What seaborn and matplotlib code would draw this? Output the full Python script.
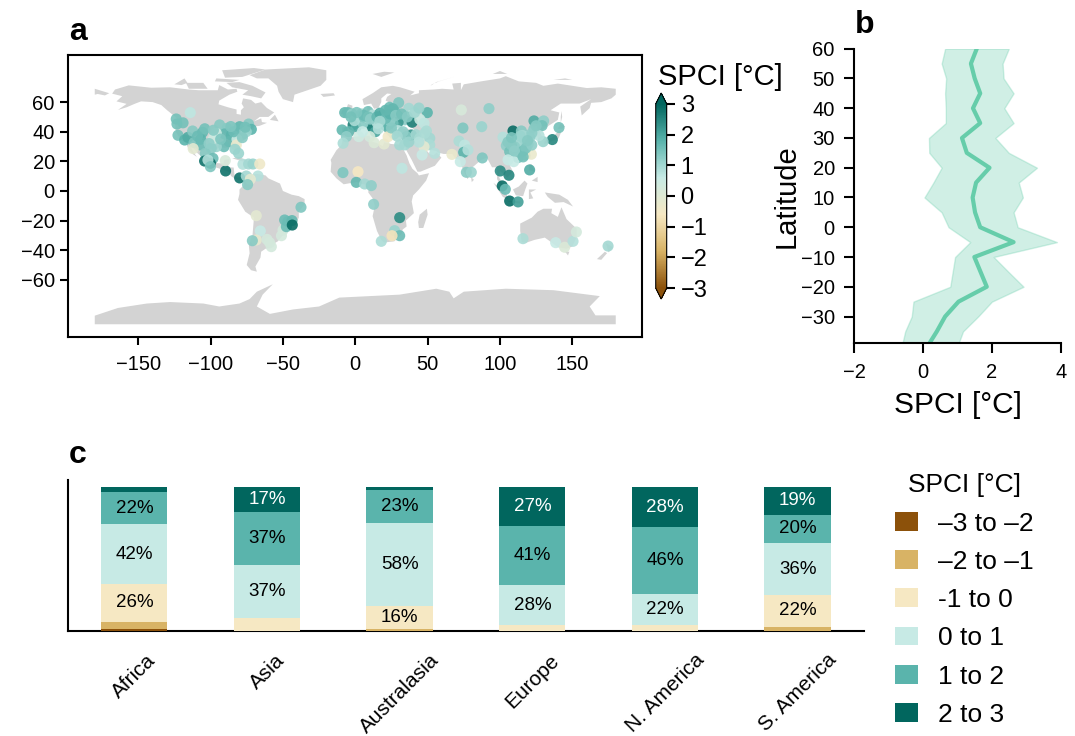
import matplotlib
matplotlib.use("Agg")
import matplotlib.pyplot as plt
from matplotlib.cm import ScalarMappable
from matplotlib.colors import LinearSegmentedColormap, Normalize
from matplotlib.patches import Patch
import numpy as np
import pandas as pd
import seaborn as sns

# ---------- land outlines (lon, lat) ----------
north_america = [(-166,68.5),(-156.5,71.3),(-141,69.7),(-128,70),(-115,68.5),(-108,68),(-95,68),(-94,71.5),(-88,68.5),(-82,69),(-81.5,67),(-87,65),(-94,61),(-94.5,58.5),(-88,56.5),(-82,55),(-82,52),(-79,51.5),(-79,54.5),(-77,56.5),(-78.5,59),(-77.5,62.5),(-72,61.5),(-69,59),(-65,60),(-61,56),(-56,53),(-60,50),(-66,50),(-70,47),(-65,49),(-64.5,46.5),(-61,46),(-66,44),(-70,43.5),(-70,41.5),(-74,40.5),(-76,37),(-75.5,35.2),(-81,32),(-80,26.5),(-80.5,25),(-82,27),(-83,29),(-85,29.7),(-90,29.2),(-94,29.5),(-97.5,27),(-97.5,22.5),(-95.5,18.8),(-91,18.5),(-90.5,21),(-87,21.5),(-88,16),(-84,15.8),(-83.5,11),(-81.5,9),(-79,9.5),(-77.3,8.5),(-78,7.5),(-80.5,7.3),(-83,8.2),(-85.7,10),(-87.5,13),(-92,14.5),(-96,15.8),(-101.5,17.5),(-105.5,20),(-105.5,22.5),(-109,25.5),(-112.5,30),(-114.7,31.7),(-112,26.5),(-109.5,23),(-112,24.7),(-115,28),(-117.2,32.5),(-120.5,34.5),(-124,40),(-124.5,46),(-123,49),(-130,54.5),(-134,58),(-140,60),(-148,60.5),(-152,59),(-158,56.5),(-164,54.7),(-158,58.8),(-165,60.5),(-161,64),(-168,65.7)]
greenland = [(-73,78.2),(-62,82),(-32,83.5),(-20,81.5),(-20,75),(-24,71),(-33,68),(-42,65),(-43,60),(-50,62),(-53,67),(-54,71),(-60,76),(-68,76)]
baffin = [(-80,73.5),(-71,71),(-62,66.5),(-65,62.5),(-72,64),(-78,65),(-74,68),(-85,70),(-89,73)]
victoria = [(-117,73),(-105,73),(-102,69),(-115,69)]
ellesmere = [(-90,76.5),(-78,77),(-62,82),(-70,83),(-92,81.5)]
banks = [(-125,72),(-118,76),(-116,73),(-120,71.5)]
devon = [(-96,76),(-80,75),(-85,73.5),(-97,74)]
newfoundland = [(-59,48),(-55.5,51.5),(-53,47)]
cuba = [(-85,22),(-80,23),(-74,20),(-78,20)]
hispaniola = [(-74,19.8),(-68.5,18.5),(-74,18)]
iceland = [(-24,65.5),(-15,66),(-14,64.5),(-22,63.5)]
britain = [(-5.5,50),(1.5,51.3),(0,53.5),(-2,56),(-2,57.6),(-5,58.6),(-6,56),(-3,54),(-5,52)]
ireland = [(-10,52),(-6,52.2),(-6,55),(-9,54.5)]
south_america = [(-77.3,8.5),(-75,11),(-72,12),(-71,11),(-68,11.5),(-62,10.5),(-60,8.5),(-52,5),(-50,0),(-44,-2.5),(-39,-3.5),(-35,-5.5),(-35,-9),(-39,-14),(-39,-18),(-41,-22),(-47,-24.5),(-48.5,-28),(-53.5,-34),(-57,-36),(-57.5,-38),(-62,-39),(-65,-41),(-65.5,-45),(-69,-51),(-68,-54.5),(-72,-53.5),(-75,-50),(-73,-42),(-73.5,-37),(-71,-30),(-70,-18),(-76,-14),(-81,-6),(-80,-2),(-80,1),(-77,4),(-77.5,7)]
africa = [(-6,35.8),(3,37),(10,37.3),(11,33.5),(15,32.3),(19,30.3),(20,32.8),(25,31.7),(32,31.2),(34.3,31.3),(32.5,29.5),(35.5,24),(37.5,18.5),(39.5,15),(43,12),(44,10.5),(51,12),(49,7),(44,1),(40,-3),(39,-7),(40.5,-15),(35,-20),(35.5,-24),(32.8,-26),(32,-29),(27,-34),(20,-34.8),(18,-33),(15,-27),(12,-17),(13.5,-10),(12,-5),(9,-1),(9.5,4),(5.5,4.5),(1,6),(-4,5.2),(-8,4.5),(-13,8.5),(-17,13),(-16.5,19),(-17,21),(-13,27.5),(-9.5,31),(-9,33.5)]
madagascar = [(49.5,-12),(50,-16),(47,-25),(44,-25),(43.5,-21),(44.5,-16)]
eurasia = [(-9.5,37),(-9,43),(-2,43.5),(-1,46),(-4.5,48.5),(1,50),(4,52),(8,54),(8.5,57),(10.5,57.5),(10,54.5),(14,54),(19,54.5),(21,57),(24,59.5),(30,60),(23,60),(21,61),(22,63.5),(25,65.5),(22,65.8),(18,62.5),(18,60),(16,56),(13,55.5),(11,59),(6,58),(5,62),(12,66),(18,70),(26,71),(31,70),(41,67),(38,64.5),(44,66),(44,68),(54,68.5),(60,69),(68,68.5),(67,72.5),(73,73),(73,68),(75,72),(87,74),(100,76),(104,77.5),(113,74),(125,73),(130,71),(140,72.5),(160,69.5),(170,70),(180,69),(180,65),(177,62.5),(170,60),(163,59.5),(162,56),(156.5,51),(155.5,57),(163,62),(155,59),(142,59),(135,54.5),(141,53),(140,48),(132,43),(127.5,39.8),(129.5,36),(126.5,34.5),(125,39.5),(121,39),(118,39),(122.5,37),(119.5,35),(122,31),(120,26),(114,22.5),(108,21.5),(106,19),(109,13),(105,9),(103,11),(100,13.5),(99.5,9),(104,1.5),(101,3),(98,8),(98,16),(94.5,16),(91,22.5),(87,21),(80.5,15.5),(80,11),(77.5,8),(73,18),(72.5,21),(69,22),(67,25),(61,25),(57,26),(56,27),(51,28),(48,30),(50,26.5),(51.5,25),(54,24),(56.3,26),(59.5,22.5),(55,17),(45,13),(43,13),(39,21),(35,28),(34.3,31.3),(36,36.5),(30,36.3),(26.5,38.5),(26,40),(29,41),(35,42),(41,41),(37,45),(33,45.5),(30,46),(28,43),(26,41),(24,40.5),(23,37),(20,40),(18.5,42.5),(13,45.5),(12.5,44),(18.5,40),(16,38),(11,43),(7,44),(3,43),(0,39.5),(-2,36.7),(-6,36)]
chukotka = [(-180,69),(-175,67.5),(-170,66),(-173,64.5),(-178,65.5),(-180,65)]
honshu = [(130.5,31.5),(131,34),(136,36),(140,40),(141.5,41),(142,39),(140.5,35.5),(136,33.7)]
hokkaido = [(140,42),(142,45.5),(145,43.5),(143,42)]
sakhalin = [(142,46),(143,50),(142.5,54),(142,50)]
taiwan = [(120,23),(121.5,25),(121,22)]
luzon = [(120,18),(122,18),(124,13),(120,14)]
mindanao = [(122,7),(126,9.5),(126,6)]
borneo = [(109,1),(113,3),(117,7),(119,5),(117.5,1),(116,-3.5),(111,-3)]
sumatra = [(95.5,5.5),(104,-1),(106,-6),(102,-4)]
java = [(105,-6.5),(114,-7),(114,-8.5),(106,-7.5)]
sulawesi = [(120,1),(125,1),(121,-1),(123,-5),(120,-5.5)]
new_guinea = [(131,-1),(141,-2.5),(147,-6),(150.5,-10.5),(144,-7.5),(138,-8),(133,-4)]
sri_lanka = [(80,9.5),(82,7.5),(80.5,6)]
australia = [(114,-22),(122,-18),(126,-14),(130,-12),(136,-12),(135.5,-15),(140,-17.5),(142.5,-11),(146,-19),(153,-25.5),(153,-31),(150,-37.5),(146,-39),(140,-38),(136,-35),(131,-31.5),(124,-33),(118,-35),(115,-34.5),(114,-27)]
tasmania = [(145,-41),(148,-41),(147,-43.5)]
nz_north = [(173,-35),(178,-38),(175,-41.5),(174,-38)]
nz_south = [(172.5,-41),(174,-42),(170,-46.5),(167,-46)]
novaya = [(52,71),(56,73.5),(68,77),(58,74),(53,72)]
svalbard = [(12,79),(20,80.5),(27,80),(18,77)]
severnaya = [(95,79),(105,79),(100,81)]
new_siberian = [(137,75),(145,76),(150,75)]
antarctica = [(-180,-84.2),(-164,-79),(-144,-76),(-128,-75),(-105,-76),(-94,-78),(-80,-76),(-73,-73),(-68,-68),(-57,-63),(-64,-70),(-68,-78),(-59,-83),(-43,-80),(-25,-78),(-11,-72),(30.6,-70),(56,-66),(65,-68),(68,-72.5),(75,-68),(104,-66),(137,-67),(169,-71),(162,-78),(166,-84),(180,-84),(180,-90),(-180,-90)]
land_shapes = [north_america, greenland, baffin, victoria, ellesmere, banks, devon, newfoundland, cuba, hispaniola,
               iceland, britain, ireland, south_america, africa, madagascar, eurasia, chukotka, honshu, hokkaido,
               sakhalin, taiwan, luzon, mindanao, borneo, sumatra, java, sulawesi, new_guinea, sri_lanka, australia,
               tasmania, nz_north, nz_south, novaya, svalbard, severnaya, new_siberian, antarctica]

# ---------- panel a: sites ----------
americas_lon = [-123.7,-123.2,-114,-122.5,-117.9,-115.6,-112.4,-111.4,-105.5,-106.8,-106.8,-112,-93.7,-88.6,-90.2,-85.6,-87.3,-90.7,-96,-99.5,-97.9,-96,-82.2,-79.9,-73.7,-71.8,-77.6,-75.3,-81.7,-82.2,-83.1,-80.6,-103.6,-98.3,-100.1,-104.1,-101.8,-100.1,-89.6,-89.8,-79.9,-77.6,-73.7,-70.7,-66,-75.3,-67.2,-72.5,-74.4,-37.5,-68.4,-65.6,-68.4,-71.1,-61,-58,-59.2,-51,-49.9,-48.8,-46.5,-47.6,-43.7,-43.5]
americas_lat = [48.6,45.2,52.9,37.6,34.4,36.2,40.5,32.6,39.6,34.9,31,28.6,44.6,42.3,38.5,37.8,33.3,29.9,29.9,28.8,35.5,38.9,42.3,43.4,45.2,41.6,38.5,40,34.9,31,28.1,25.4,25.4,22,18.7,20.2,20.9,16.4,13.5,20.5,8.8,18,18.2,18.2,18.2,10.1,10.1,7.9,4.3,-11,-16.7,-27,-33.1,-33.6,-32.7,-37.6,-34.9,-30.2,-26.4,-19.6,-20.7,-24.1,-20,-23]
americas_spci = [1.5,1.5,0.7,1.5,1.8,1.9,1.3,1.4,1.7,1.8,1.6,-0.1,1.3,1.3,1.7,1.8,1.7,1.6,1.1,1.2,0.4,0.5,1.0,1.7,1.3,1.8,1.3,1.1,0.5,-0.3,1.1,1.1,1.3,1.6,2.8,2.8,0.8,1.4,2.8,0.2,2.8,0.8,1.0,1.1,-0.4,1.0,0.8,-0.1,1.3,1.4,-0.1,0.6,-0.2,1.3,0.3,0.3,0.3,0.3,0.3,1.6,1.6,1.6,1.7,2.9]
dense_na_lon = [-119,-104,-98,-84,-78,-76,-93,-101,-109,-86]
dense_na_lat = [46,42,41,40,36,43,35,32,37,43.5]
dense_na_spci = [1.5,1.5,1.3,1.6,1.3,1.5,1.4,1.2,1.6,1.4]

europe_lon = [-7.3,-5,-2.2,1.5,4.2,8.8,12.3,19.2,23.8,30,27.3,29.6,37,39.3,49.8,34.2,29.6,39.3,26.1,44.6,47.5,49.2,-1.5,0.8,7.7,10.7,14.6,16.9,20.4,11.6,13.9,22.7,29.6,26.8,38.8,35.3,30.7,34.2,44.5,51.5,51.5,47.5,54.9,46.2,-9.1,-4.5,-6.1,-8.4,2.4,10,13,19.9,22.7,5.4,13.4,15.3,8.3,3,-0.5,6,18,24]
europe_lat = [52.9,52.9,52,48.4,52,53.6,51.3,51.3,56.5,59.6,53.6,50.6,55.8,51.3,52.9,48,46.4,46.4,45.7,48.4,45.7,40.5,44.6,43.4,46.8,45.7,46.8,44.6,44.6,43,40,43,40.7,38.5,37.8,36.7,31.1,31.1,35.6,35.6,31.1,29.9,25.4,24.3,41.2,40,36.7,32.2,36.7,36.7,32.6,31.7,36.7,45.7,48.4,45.7,49.5,50.2,47.5,50,49,47.5]
europe_spci = [1.7,1.6,1.2,0.5,1.1,1.5,0.8,2.0,1.6,1.4,1.6,1.6,1.0,0.4,1.8,1.2,2.2,2.6,1.5,0.5,0.7,0.9,2.6,1.9,1.2,1.5,0.9,1.0,2.0,2.6,2.0,1.7,0.7,1.1,2.2,1.3,1.0,1.0,0.4,1.0,0.9,-0.1,0.8,0.6,1.7,1.7,1.2,0.9,0.4,0.3,0.1,-0.1,-0.4,1.2,0.8,0.8,0.9,1.3,0.9,1.4,1.5,1.2]
dense_eu_lon = [6,9,10.5,15,17,21,24,26,28,32,36,41,44,21,1,-3,17,25,33,42,44,37,29,48,16,5]
dense_eu_lat = [51,50,48.5,50,52.5,49,52,55.5,51,52,50,53,56,54.5,53,50,47,42.5,40,38,33,33,37,39,42,40]
dense_eu_spci = [1.6,1.5,1.2,1.7,1.9,1.6,1.8,1.7,1.3,1.5,1.3,1.0,1.1,1.7,1.4,1.5,1.0,1.3,1.2,1.0,0.8,1.1,1.0,0.9,0.8,0.6]

asia_lon = [73.3,92.4,74.4,87.4,71.7,75.6,74.9,77.9,66.8,72.6,76.8,80.2,87.8,100.2,106.2,101.6,103.7,106.7,112.5,120.5,109,114.8,123.5,130.2,129.1,123.5,140.8,136.2,129.8,127,102.1,104.4,106.7,111.8,113.2,118.2,119.4,112.5,112.5,117.1,121.7,105.6,109.5,114.8,117,110,116,105.5,120.5,115.5]
asia_lat = [54.7,55.6,42.5,43.4,33.7,31,26.1,27.7,24.7,19.8,12.6,12.6,22.3,13.5,10.6,3.4,1.1,-6.8,-7.4,14.2,40.5,40.5,47.3,47.3,44.1,41.9,42.8,34.7,33.3,37.4,36.3,30.6,26.6,34.5,34.5,36.7,31.5,28.2,22.5,24.3,24.8,21,19.8,31.1,35,30,27,33,36,37.5]
asia_spci = [0.2,1.2,1.4,1.1,0.9,0.7,1.8,0.8,-0.3,0.6,1.3,1.1,1.4,2.4,2.5,2.9,1.6,2.9,2.1,1.9,2.9,1.3,1.9,1.2,1.5,1.3,1.5,2.5,1.1,0.8,0.8,1.2,1.5,1.2,0.8,1.0,1.1,1.6,1.4,1.3,-0.3,0.6,0.6,1.0,1.1,1.2,1.5,1.3,1.2,1.0]
dense_as_lon = [108,110,118,122,114,122,125,108,116,119]
dense_as_lat = [31,27,29,31,37,39,44,36,23,34]
dense_as_spci = [1.3,1.2,1.4,1.2,1.1,1.2,1.3,1.4,1.5,1.3]

africa_oceania_lon = [-8.5,1.9,0.7,6.5,11.1,32.3,12.7,30.7,27.2,30.7,25.4,18,115.9,138.5,144.7,150.5,152.8,174.7]
africa_oceania_lat = [12.4,13,5.8,4.7,3.6,15.3,-9,-18,-26.8,-30.2,-30.2,-34,-32.2,-34.9,-38,-34,-27.7,-37.2]
africa_oceania_spci = [1.4,-0.6,1.7,1.0,1.2,0.7,1.2,2.4,1.1,1.6,-0.7,0.9,0.9,0.6,0.1,0.8,0.3,1.0]

map_xticks = [-150, -100, -50, 0, 50, 100, 150]
map_yticks = [-60, -40, -20, 0, 20, 40, 60]
cbar_ticks = [-3, -2, -1, 0, 1, 2, 3]

# ---------- panel b: latitudinal profile ----------
lat_bins = [60,55,50,45,40,35,30,25,20,15,10,5,0,-5,-10,-15,-20,-25,-30,-35,-40]
lat_mean = [1.56,1.39,1.50,1.66,1.45,1.66,1.13,1.27,1.93,1.54,1.44,1.51,1.66,2.63,1.49,1.67,1.85,1.03,0.64,0.40,0.13]
lat_low = [0.64,0.54,0.67,0.64,0.66,0.66,0.17,0.18,0.54,0.30,0.04,0.54,0.74,1.37,0.93,0.86,0.79,-0.28,-0.33,-0.52,-0.62]
lat_high = [2.49,2.31,2.34,2.63,2.36,2.63,2.10,2.49,3.31,2.78,2.90,2.63,2.75,3.89,2.05,2.48,2.92,2.00,1.60,1.16,1.00]

# ---------- panel c: share of sites per class ----------
regions = ["Africa", "Asia", "Australasia", "Europe", "N. America", "S. America"]
class_labels = ["\u20133 to \u20132", "\u20132 to \u20131", "-1 to 0", "0 to 1", "1 to 2", "2 to 3"]
class_colors = ["#8c510a", "#d8b365", "#f6e8c3", "#c7eae5", "#5ab4ac", "#01665e"]
share_m3 = [1.5, 0, 0, 0, 0, 0]
share_m2 = [5, 0, 1.3, 0, 0, 3]
share_m1 = [26, 9, 16, 4, 4, 22]
share_p0 = [42, 37, 58, 28, 22, 36]
share_p1 = [22, 37, 23, 41, 46, 20]
share_p2 = [3.5, 17, 1.7, 27, 28, 19]
shares = [share_m3, share_m2, share_m1, share_p0, share_p1, share_p2]
min_labelled_share = 15

# ---------- styling ----------
W, H = 1075, 736
sns.set_style("ticks")
plt.rcParams["font.family"] = ["Liberation Sans", "DejaVu Sans"]
plt.rcParams["axes.linewidth"] = 1.5
plt.rcParams["xtick.major.width"] = 1.5
plt.rcParams["ytick.major.width"] = 1.5
plt.rcParams["xtick.major.size"] = 6
plt.rcParams["ytick.major.size"] = 6
plt.rcParams["xtick.color"] = "black"
plt.rcParams["ytick.color"] = "black"
plt.rcParams["text.color"] = "black"
plt.rcParams["axes.labelcolor"] = "black"
plt.rcParams["axes.edgecolor"] = "black"

spci_cmap = LinearSegmentedColormap.from_list("spci", class_colors)
spci_norm = Normalize(-3, 3)


def box(left, top, right, bottom):
    return [left / W, 1 - bottom / H, (right - left) / W, (bottom - top) / H]


fig = plt.figure(figsize=(W / 100, H / 100), dpi=100)

# panel a
ax_a = fig.add_axes(box(68, 55, 642.5, 337))
for shape in land_shapes:
    xs, ys = zip(*shape)
    ax_a.fill(xs, ys, color="#d3d3d3", lw=0, zorder=1)
sites = pd.DataFrame({
    "lon": americas_lon + dense_na_lon + europe_lon + dense_eu_lon + asia_lon + dense_as_lon + africa_oceania_lon,
    "lat": americas_lat + dense_na_lat + europe_lat + dense_eu_lat + asia_lat + dense_as_lat + africa_oceania_lat,
    "spci": americas_spci + dense_na_spci + europe_spci + dense_eu_spci + asia_spci + dense_as_spci + africa_oceania_spci,
})
sns.scatterplot(data=sites, x="lon", y="lat", hue="spci", palette=spci_cmap, hue_norm=spci_norm,
                s=64, linewidth=0, alpha=0.9, legend=False, ax=ax_a, zorder=3)
ax_a.set_xlim(-198.5, 198.5)
ax_a.set_ylim(-98.6, 91.8)
ax_a.set_xticks(map_xticks)
ax_a.set_yticks(map_yticks)
ax_a.set_xlabel("")
ax_a.set_ylabel("")
ax_a.tick_params(labelsize=14.5)
ax_a.tick_params(axis="x", pad=7)

# colour bar (the extension tips live inside this axes box)
cax = fig.add_axes(box(655.7, 93, 666.7, 299))
cbar = fig.colorbar(ScalarMappable(spci_norm, spci_cmap), cax=cax, extend="both", extendfrac=0.0595)
cbar.set_ticks(cbar_ticks)
cbar.ax.tick_params(labelsize=17, length=6, width=1.5, pad=4)
cbar.outline.set_linewidth(0.8)
fig.text(720 / W, 1 - 77 / H, "SPCI [\u00b0C]", fontsize=21, ha="center", va="center")

# panel b
ax_b = fig.add_axes(box(854.3, 48.7, 1060.7, 343.3))
ax_b.fill_betweenx(lat_bins, lat_low, lat_high, color="#66cdaa", alpha=0.3, zorder=1)
profile = pd.DataFrame({"lat": lat_bins, "spci": lat_mean})
sns.lineplot(data=profile, x="spci", y="lat", orient="y", estimator=None, color="#66cdaa", lw=3, ax=ax_b, zorder=2)
ax_b.set_xlim(-2, 4)
ax_b.set_ylim(-39, 60)
ax_b.set_xticks([-2, 0, 2, 4])
ax_b.set_yticks(list(range(-30, 61, 10)))
ax_b.tick_params(labelsize=14.5, length=7, pad=7)
ax_b.set_xlabel("SPCI [\u00b0C]", fontsize=21.5, labelpad=7)
ax_b.set_ylabel("Latitude", fontsize=21, labelpad=0)
sns.despine(ax=ax_b)

# panel c: stacked bars drawn as cumulative layers, tallest first
ax_c = fig.add_axes(box(68, 480, 864, 631))
cum = np.cumsum(np.array(shares, dtype=float), axis=0)
tops = 100 * cum / cum[-1]
for level in range(len(class_labels) - 1, -1, -1):
    sns.barplot(x=regions, y=tops[level], color=class_colors[level], saturation=1, width=0.5,
                linewidth=0, edgecolor="none", ax=ax_c, zorder=2 + (5 - level))
for i, region in enumerate(regions):
    for level in range(len(class_labels)):
        value = shares[level][i]
        if value >= min_labelled_share:
            lower = tops[level - 1][i] if level else 0
            ax_c.text(i, (lower + tops[level][i]) / 2, f"{value:.0f}%", ha="center", va="center", fontsize=13.5,
                      color="white" if level == 5 else "black", zorder=20)
ax_c.set_xlim(-0.5, 5.5)
ax_c.set_ylim(0, 105)
ax_c.set_yticks([])
ax_c.set_ylabel("")
ax_c.tick_params(axis="x", length=0, labelsize=15, pad=14)
for lab in ax_c.get_xticklabels():
    lab.set_rotation(45)
    lab.set_ha("center")
sns.despine(ax=ax_c)
handles = [Patch(facecolor=c, edgecolor="none", label=l) for c, l in zip(class_colors, class_labels)]
fig.legend(handles=handles, title="SPCI [\u00b0C]", title_fontsize=19, fontsize=19, frameon=False,
           loc="upper left", bbox_to_anchor=(890 / W, 1 - 468 / H), handlelength=0.87, handleheight=0.72,
           handletextpad=0.76, labelspacing=0.54, borderpad=0.2, borderaxespad=0)

# panel letters
for letter, x, y in [("a", 69, 40), ("b", 855, 33), ("c", 69, 463)]:
    fig.text(x / W, 1 - y / H, letter, fontsize=23, fontweight="bold", ha="left", va="baseline")

fig.savefig("out.png", dpi=100)
